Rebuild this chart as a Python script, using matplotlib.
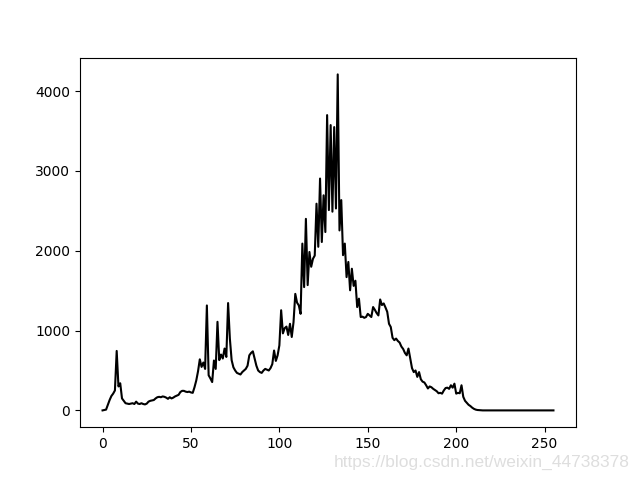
import matplotlib
matplotlib.use("Agg")
import matplotlib.pyplot as plt
import numpy as np

# grey-level histogram counts, bins 0..255
hist_head = [
    0, 5, 10, 70, 130, 180, 210, 250, 745, 300,
    340, 150, 120, 90, 85, 80, 85, 90, 80, 110,
    85, 80, 90, 80, 75, 85, 110, 120, 125, 130,
    150, 165, 170, 165, 175, 170, 160, 145, 165, 150,
    160, 175, 185, 195, 230, 245, 245, 235, 230, 235,
    225, 220, 290, 375, 490, 640, 545, 600, 520, 1315,
    440, 400, 355, 625, 520, 1110, 630, 700, 650, 775,
    670, 1345, 900, 630, 540, 500, 470, 460, 450, 480,
    500, 520, 560, 690, 720, 740, 650, 560, 500, 480,
    470, 500, 520, 510, 500, 530, 580, 750, 620, 690,
]
hist_mid = [
    815, 1255, 965, 1030, 1050, 945, 1085, 920, 1105, 1460,
    1350, 1315, 1210, 2090, 1545, 2400, 1570, 1985, 1800, 1900,
    1940, 2590, 2050, 2905, 2110, 2695, 2235, 3700, 2510, 3575,
    2490, 3550, 2530, 4210, 2255, 2635, 1945, 2090, 1670, 1860,
    1505, 1775, 1560, 1625, 1295, 1400, 1170, 1175, 1160, 1170,
    1210, 1190, 1170, 1295, 1260, 1220, 1190, 1390, 1320, 1340,
    1290, 1235, 1085, 1045, 910, 880, 900, 870, 850, 800,
    770, 720, 690, 775, 650, 530, 480, 500, 420, 480,
    390, 360, 350, 315, 275, 300, 290, 270, 255, 240,
    215, 220, 210, 250, 280, 285, 270, 315, 285, 335,
]
hist_tail = [
    210, 220, 215, 315, 170, 120, 95, 70, 55, 35,
    20, 10, 5, 3, 2,
] + [0] * 41

hist = np.array(hist_head + hist_mid + hist_tail)

plt.figure(figsize=(6.4, 4.8), dpi=100)
plt.plot(hist, color='black')
# csdn watermark
plt.gcf().text(0.984, 0.02, "https://blog.csdn.net/weixin_44738378",
               ha='right', va='bottom', fontsize=12.5, color='#dedede',
               family='Liberation Sans')
plt.savefig("out.png")
